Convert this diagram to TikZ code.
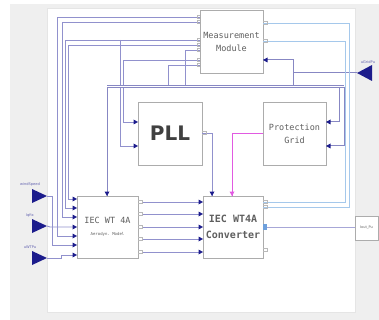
\documentclass[tikz,border=0pt]{standalone}
\usepackage{fontspec}
\setmonofont{DejaVu Sans Mono}
\setsansfont{DejaVu Sans}
\definecolor{navy}{RGB}{28,28,140}
\definecolor{lav}{RGB}{145,145,205}
\definecolor{gridc}{RGB}{135,135,195}
\definecolor{lblue}{RGB}{165,200,235}
\definecolor{bgc}{RGB}{239,239,239}
\definecolor{txt}{RGB}{95,95,95}
\definecolor{mag}{RGB}{225,90,225}
\definecolor{oblue}{RGB}{110,160,220}
\newcommand\portR[2]{\fill[navy] (#1,#2) -- ++(-4.5,-2.5) -- ++(0,5) -- cycle;}
\newcommand\portD[3]{\fill[#3] (#1,#2) -- ++(-2.5,-4.5) -- ++(5,0) -- cycle;}
\newcommand\portO[2]{\draw[gray!55, line width=0.4pt] (#1,#2-1.6) -- ++(4,0) -- ++(0,3.2) -- ++(-4,0);}
\begin{document}
\begin{tikzpicture}[x=1pt,y=-1pt,
  block/.style={draw=gray!65, fill=white, line width=0.6pt, inner sep=0, align=center, text=txt, font=\ttfamily\fontsize{8.5}{13}\selectfont},
  wire/.style={draw=lav, line width=0.8pt},
  gwire/.style={draw=gridc, line width=1pt},
  bwire/.style={draw=lblue, line width=0.8pt},
  lbl/.style={font=\sffamily\fontsize{3.6}{4}\selectfont, text=navy!70, inner sep=0}]
\useasboundingbox (0,0) rectangle (379,320);
\fill[bgc] (10,4) rectangle (379,320);
\fill[white, draw=gray!20] (47,8) rectangle (355,312);

% blocks
\node[block, minimum width=63pt, minimum height=63pt] (mm) at (231.5,41.5) {Measurement\\Module};
\node[block, minimum width=64pt, minimum height=63pt, font=\sffamily\bfseries\fontsize{20}{22}\selectfont, text=black!75] (pll) at (170,133.5) {PLL};
\node[block, minimum width=63pt, minimum height=63pt] (pg) at (294.5,133.5) {Protection\\Grid};
\node[block, minimum width=61pt, minimum height=62pt, font=\ttfamily\fontsize{8.5}{13}\selectfont] (wt) at (107.5,227) {IEC WT 4A\\[-1pt]{\fontsize{4}{5}\selectfont Aerodyn. Model}};
\node[block, minimum width=60pt, minimum height=62pt, font=\ttfamily\bfseries\fontsize{10}{16}\selectfont] (conv) at (233,227) {IEC WT4A\\Converter};
\node[block, minimum width=23pt, minimum height=24pt, font=\sffamily\fontsize{3.5}{4}\selectfont] (iout) at (366.5,228) {Iout\_Pu};

% port coordinates
\coordinate (mmL1) at (200,17);
\coordinate (mmL2) at (200,22);
\coordinate (mmL3) at (200,40);
\coordinate (mmL4) at (200,45);
\coordinate (mmL5) at (200,50);
\coordinate (mmL6) at (200,60);
\coordinate (mmL7) at (200,65);
\coordinate (mmR1) at (263,23);
\coordinate (mmR2) at (263,41);
\coordinate (mmR3) at (263,60);
\coordinate (wtI1) at (73,199);
\coordinate (wtI2) at (73,208);
\coordinate (wtI3) at (73,217);
\coordinate (wtI4) at (73,227);
\coordinate (wtI5) at (73,236);
\coordinate (wtI6) at (73,245);
\coordinate (wtI7) at (73,255);
\coordinate (wtT) at (107,196);
\coordinate (pllI1) at (134,122);
\coordinate (pllI2) at (134,146);
\coordinate (pllO) at (202,133);
\coordinate (pgI1) at (327,122);
\coordinate (pgI2) at (327,146);
\coordinate (pgO) at (263,133);
\coordinate (cvT1) at (212,196);
\coordinate (cvT2) at (232,196);
\coordinate (cvR1) at (263,202);
\coordinate (cvR2) at (263,207);
\coordinate (cvO) at (263,227);
\coordinate (cvR4) at (263,250);

% input ports (left)
\fill[navy] (32,189) -- (47,196) -- (32,203) -- cycle; \coordinate (p1) at (47,196);
\fill[navy] (32,219) -- (47,226) -- (32,233) -- cycle; \coordinate (p2) at (47,226);
\fill[navy] (32,251) -- (47,258) -- (32,265) -- cycle; \coordinate (p3) at (47,258);
\node[lbl] (l1) at (30,185) {windSpeed};
\node[lbl] (l2) at (30,216) {Iqfix};
\node[lbl] (l3) at (30,247) {uWTPu};
% input port (right)
\fill[navy] (372,65) -- (357,73) -- (372,81) -- cycle; \coordinate (p4) at (357,73);
\node[lbl] (l4) at (368,62) {uGridPu};

% wires MM -> WT
\draw[wire] (mmL1) -| (57,236) -- (wtI5);
\draw[wire] (mmL2) -| (62,217) -- (wtI3);
\draw[wire] (mmL3) -| (65,208) -- (wtI2);
\draw[wire] (mmL4) -| (68,199) -- (wtI1);
\draw[wire] (120,40) |- (pllI2);
\draw[wire] (mmL6) -| (123,122) -- (pllI1);
\draw[wire] (mmL5) -| (185,87);
\draw[wire] (mmL7) -| (168,87);
% grid line
\draw[gwire] (p4) -- (293,73);
\draw[gwire] (mmR3) -| (293,87);
\draw[gwire, double=white, double distance=1.2pt, line width=0.7pt] (107,86.5) -- (344,86.5);
\draw[gwire] (107,87) -- (wtT);
\draw[gwire] (339,87) |- (pgI1);
\draw[gwire] (344,87) |- (pgI2);
% light blue feedback
\draw[bwire] (mmR1) -| (349,207) -- (cvR2);
\draw[bwire] (mmR2) -| (345,202) -- (cvR1);
% WT -> conv
\foreach \y in {202,214,227,239,252} {\draw[wire] (142,\y) -- (199,\y);}
% PLL / PG -> conv
\draw[wire] (pllO) -| (cvT1);
\draw[draw=mag, line width=0.8pt] (pgO) -| (cvT2);
% conv -> iout
\draw[bwire, draw=lav!80] (cvO) -- (iout.west |- cvO);
% left ports
\draw[wire] (p1) -| (52,245) -- (wtI6);
\draw[wire] (p2) -- (50,227) -- (wtI4);
\draw[wire] (p3) -| (61,255) -- (wtI7);

% port markers
\foreach \y in {199,208,217,227,236,245,255} {\portR{77}{\y}}
\foreach \y in {202,214,227,239,252} {\portR{203}{\y}\portO{138}{\y}}
\portR{138}{122}\portR{138}{146}
\fill[navy] (326,122) -- ++(4.5,-2.5) -- ++(0,5) -- cycle;
\fill[navy] (326,146) -- ++(4.5,-2.5) -- ++(0,5) -- cycle;
\fill[navy] (263,60) -- ++(4.5,-2.5) -- ++(0,5) -- cycle;
\portD{107}{196}{navy}
\portD{212}{196}{navy}
\portD{232}{196}{mag}
\foreach \y in {17,22,40,45,50,60,65} {\draw[gray!55, line width=0.4pt] (200,\y-1.6) -- ++(-3,0) -- ++(0,3.2) -- ++(3,0);}
\portO{263}{23}\portO{263}{41}
\portO{202}{133}\portO{263}{202}\portO{263}{207}\portO{263}{250}
\fill[oblue] (263,224) rectangle (267,230);
\end{tikzpicture}
\end{document}
